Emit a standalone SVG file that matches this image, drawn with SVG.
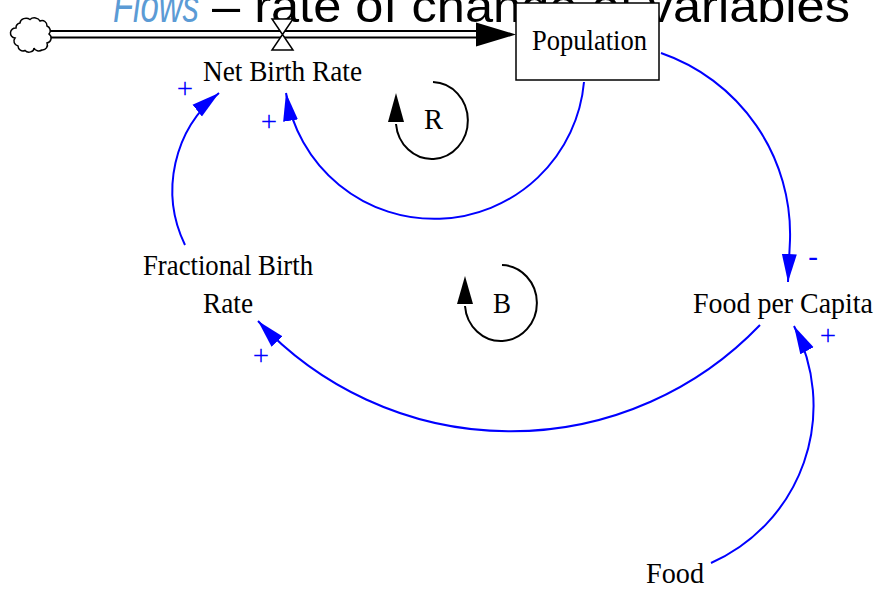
<svg xmlns="http://www.w3.org/2000/svg" width="880" height="591" viewBox="0 0 880 591">
<style>
.lbl{font-family:"Liberation Serif","Times New Roman",serif;font-size:29px;fill:#000}
.sign{font-family:"Liberation Serif","Times New Roman",serif;font-size:29px;fill:#0000ff;text-anchor:middle}
.link{fill:none;stroke:#0000ff;stroke-width:2;marker-end:url(#ah)}
.loop{fill:none;stroke:#000;stroke-width:2}
.title{font-family:"Liberation Sans",Arial,sans-serif;font-size:46px}
</style>
<defs>
<marker id="ah" markerUnits="userSpaceOnUse" markerWidth="30" markerHeight="16" refX="28" refY="8" orient="auto" viewBox="0 0 30 16">
<path d="M0,0.5 L28,8 L0,15.5 z" fill="#0000ff"/>
</marker>
</defs>
<rect width="880" height="591" fill="#fff"/>
<g id="title">
<text class="title" x="113" y="22" textLength="86" lengthAdjust="spacingAndGlyphs" font-style="italic" fill="#5b9bd5">Flows</text>
<text class="title" x="212" y="22" textLength="638" lengthAdjust="spacingAndGlyphs" fill="#000">– rate of change of variables</text>
</g>

<g id="connectors">
<path class="link" d="M584,82 A150.3,150.3 0 0,1 286,93"/>
<path class="link" d="M185,245 A125,125 0 0,1 219,93"/>
<path class="link" d="M661,53 A191.6,191.6 0 0,1 790,240 L788,282"/>
<path class="link" d="M760,325 A345,345 0 0,1 258,321"/>
<path class="link" d="M711,563 A172,172 0 0,0 794,326"/>
</g>

<g id="flow">
<line x1="48" y1="34.3" x2="480" y2="34.3" stroke="#000" stroke-width="8.5"/>
<line x1="46" y1="34.3" x2="481" y2="34.3" stroke="#fff" stroke-width="4.5"/>
<polygon points="476,22.5 516,34.5 476,46.5" fill="#000"/>
<path id="cloud" d="M20,23 A6,5 0 0,1 30,19.5 A6,5 0 0,1 40,21 A5,5 0 0,1 47,26 A5,5 0 0,1 49,34 A5,5 0 0,1 47,43 A5,5 0 0,1 42,50 A5,4 0 0,1 34,48 A5,4 0 0,1 25,50.5 A5,5 0 0,1 18,46 A5,5 0 0,1 15,38 A5,5 0 0,1 16,28 A5,5 0 0,1 20,23 Z" fill="#fff" stroke="#000" stroke-width="1.5"/>
<path id="valve" d="M272,19 L293,19 L282.5,34.5 L293,50 L272,50 L282.5,34.5 Z" fill="#fff" stroke="#000" stroke-width="1.5"/>
</g>

<g id="population">
<rect x="516" y="3" width="143" height="77" fill="#fff" stroke="#000" stroke-width="1.5"/>
<text class="lbl" x="532" y="50" textLength="115" lengthAdjust="spacingAndGlyphs">Population</text>
</g>
<g id="net-birth-rate">
<text class="lbl" x="203" y="81" textLength="159" lengthAdjust="spacingAndGlyphs">Net Birth Rate</text>
</g>
<g id="fractional-birth-rate">
<text class="lbl" x="143" y="275" textLength="170" lengthAdjust="spacingAndGlyphs">Fractional Birth</text>
<text class="lbl" x="203" y="313" textLength="50" lengthAdjust="spacingAndGlyphs">Rate</text>
</g>
<g id="food-per-capita">
<text class="lbl" x="693" y="313" textLength="180" lengthAdjust="spacingAndGlyphs">Food per Capita</text>
</g>
<g id="food">
<text class="lbl" x="646" y="583" textLength="58" lengthAdjust="spacingAndGlyphs">Food</text>
</g>

<g id="loop-R">
<path class="loop" d="M433,82 A36,38.5 0 1,1 396,124"/>
<polygon points="388,122 404,122 396,93" fill="#000"/>
<text class="lbl" x="424" y="129" textLength="19" lengthAdjust="spacingAndGlyphs">R</text>
</g>
<g id="loop-B">
<path class="loop" d="M502,265 A36,38 0 1,1 465,306"/>
<polygon points="457,304 473,304 465,276" fill="#000"/>
<text class="lbl" x="493" y="313" textLength="18" lengthAdjust="spacingAndGlyphs">B</text>
</g>

<g id="polarities">
<text class="sign" x="185" y="98">+</text>
<text class="sign" x="269" y="131">+</text>
<text class="sign" x="261" y="365">+</text>
<text class="sign" x="828" y="345">+</text>
<text class="sign" x="813" y="265.5">-</text>
</g>
</svg>
